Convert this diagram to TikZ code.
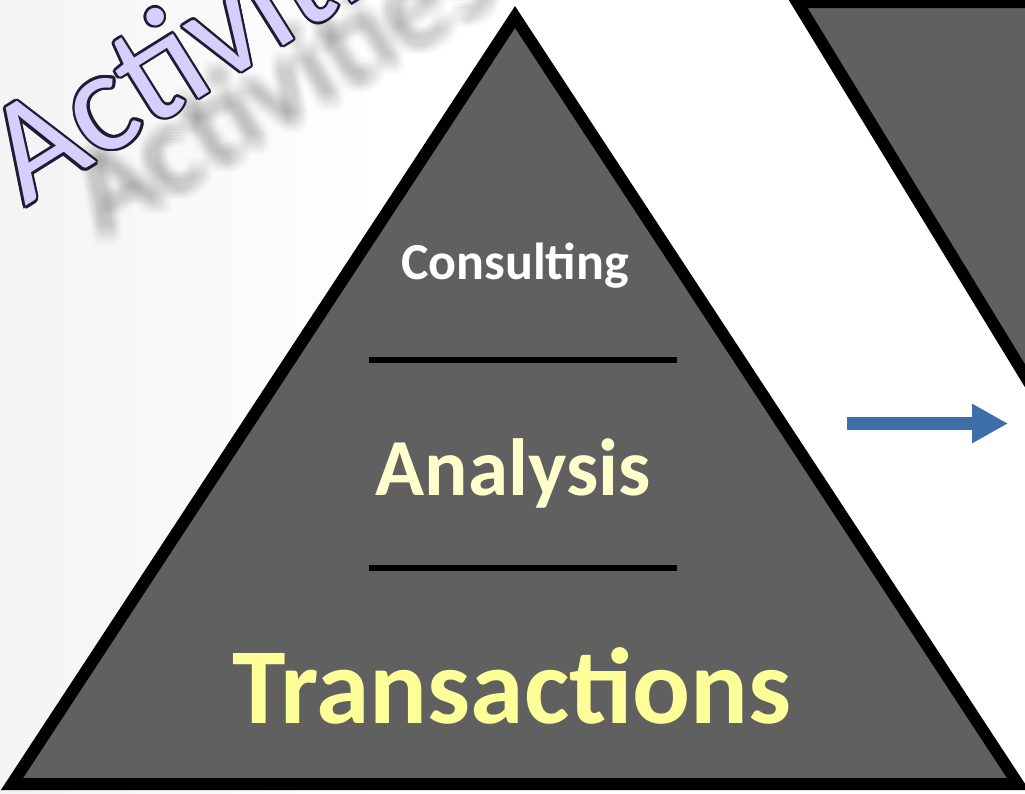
\documentclass[tikz,border=0pt]{standalone}
\usepackage{fontspec}
\setmainfont{Carlito}
\usetikzlibrary{arrows.meta,calc}
\definecolor{pyrfill}{RGB}{96,96,96}
\definecolor{arrowblue}{RGB}{63,111,170}
\definecolor{lav}{RGB}{216,206,252}
\definecolor{outl}{RGB}{30,28,50}
\definecolor{yellowA}{RGB}{255,255,204}
\definecolor{yellowT}{RGB}{255,255,153}
\tikzset{
  pyr/.style={fill=pyrfill, draw=black, line width=12pt, line join=miter},
  sepline/.style={draw=black, line width=6pt},
  lbl/.style={anchor=base, inner sep=0pt, font=\bfseries},
  acttext/.style={anchor=base west, rotate=32, inner sep=0pt, font=\fontsize{146}{146}\selectfont},
  shadowtext/.style={anchor=base west, rotate=31, inner sep=0pt, text=black, opacity=0.0075, font=\fontsize{126}{126}\selectfont},
}
\begin{document}
\begin{tikzpicture}[x=1pt,y=-1pt]
\useasboundingbox (0,0) rectangle (1025,793);
\clip (0,0) rectangle (1025,793);
\fill[white] (0,0) rectangle (1025,793);
\shade[left color=gray!9, right color=white] (0,0) rectangle (380,793);
% blurred shadow of the title
\foreach \dx in {0,...,6}{\foreach \dy in {0,...,6}{
  \node[shadowtext] (sh\dx\dy) at (94+3*\dx,230+3*\dy) {Activities};}}
% outlined title
\coordinate (actpos) at (25,207);
\foreach \a in {0,30,...,330}{
  \node[acttext, text=outl] (out\a) at ($(actpos)+(\a:2.5)$) {Activities};}
\node[acttext, text=lav] (title) at (actpos) {Activities};
% pyramid
\draw[pyr] (12,784) -- (515,17) -- (1018,784) -- cycle;
% next shape (top right)
\draw[pyr] (797,2) -- (1200,2) -- (1200,662.6) -- cycle;
% separators
\coordinate (s1l) at (369,360); \coordinate (s1r) at (677,360);
\coordinate (s2l) at (369,568); \coordinate (s2r) at (677,568);
\draw[sepline] (s1l) -- (s1r);
\draw[sepline] (s2l) -- (s2r);
% labels
\node[lbl, text=white, font=\bfseries\fontsize{52}{52}\selectfont] (consult) at (515,279) {Consulting};
\node[lbl, text=yellowA, font=\bfseries\fontsize{81}{81}\selectfont] (analysis) at (513,495) {Analysis};
\node[lbl, text=yellowT, font=\bfseries\fontsize{108}{108}\selectfont] (trans) at (512,723) {Transactions};
% arrow
\coordinate (arrS) at (847,423.5);
\coordinate (arrE) at (1008,423.5);
\draw[arrowblue, line width=13pt, -{Triangle[length=36pt,width=37pt]}] (arrS) -- (arrE);
\end{tikzpicture}
\end{document}
